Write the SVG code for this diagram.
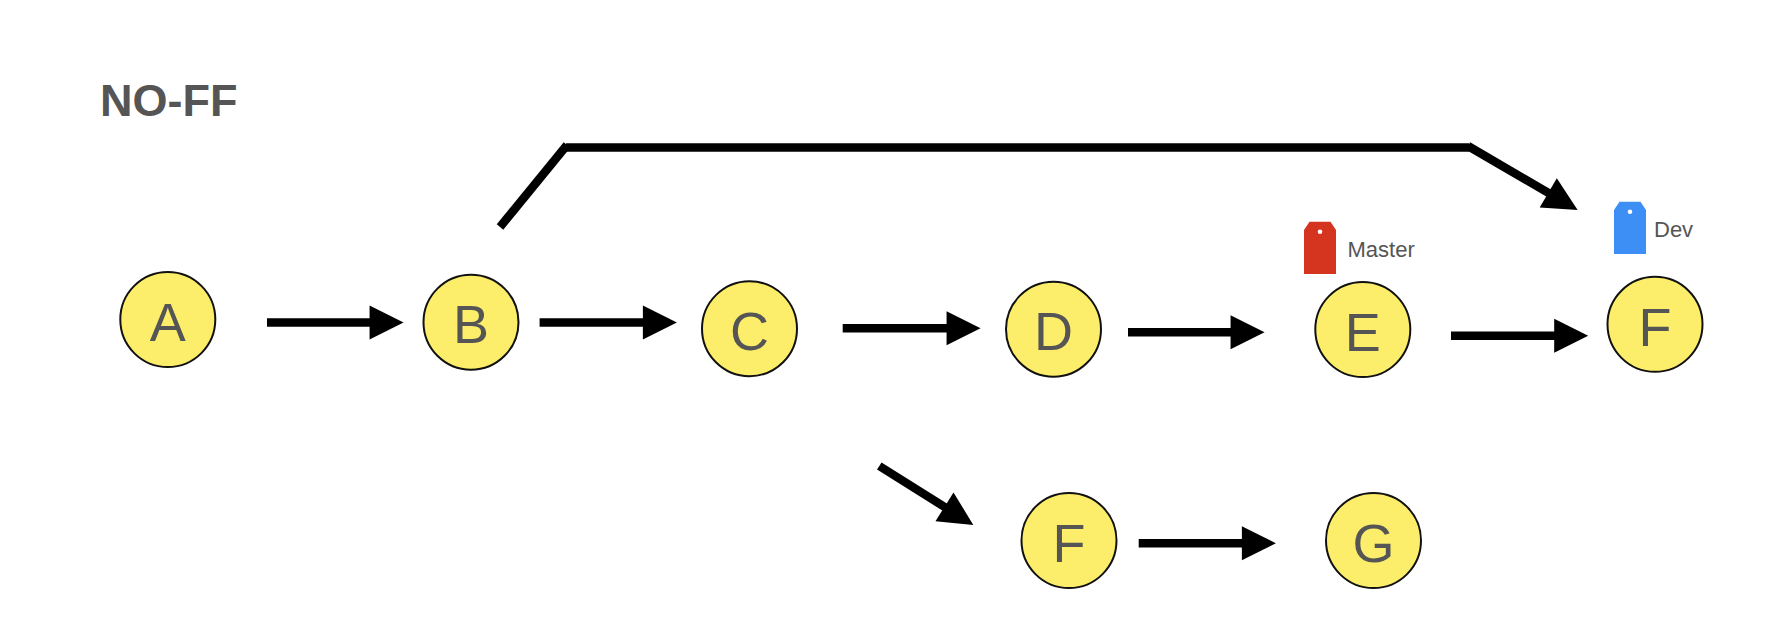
<svg xmlns="http://www.w3.org/2000/svg" width="1786" height="642" viewBox="0 0 1786 642">
<style>
.node circle{fill:#FCEE6A;stroke:#111;stroke-width:2}
.node text{font-family:"Liberation Sans",Arial,sans-serif;font-size:54px;fill:#555;text-anchor:middle}
.edge{stroke:#000;stroke-width:8.5;fill:none}
.lbl{font-family:"Liberation Sans",Arial,sans-serif;font-size:22px;fill:#555}
.title{font-family:"Liberation Sans",Arial,sans-serif;font-size:45px;font-weight:bold;fill:#555}
</style>
<defs>
<marker id="ah" markerUnits="userSpaceOnUse" markerWidth="34" markerHeight="34" viewBox="0 0 32 32" refX="2" refY="16" orient="auto" overflow="visible">
<path d="M0,0 L32,16 L0,32 Z" fill="#000"/>
</marker>
</defs>
<rect width="1786" height="642" fill="#fff"/>
<text class="title" x="100" y="115.5">NO-FF</text>
<g id="connectors">
<line class="edge" x1="267" y1="322.5" x2="371.7" y2="322.5" marker-end="url(#ah)"/>
<line class="edge" x1="539.6" y1="322.5" x2="645" y2="322.5" marker-end="url(#ah)"/>
<line class="edge" x1="842.7" y1="328.3" x2="948.7" y2="328.3" marker-end="url(#ah)"/>
<line class="edge" x1="1128" y1="332.3" x2="1232.7" y2="332.3" marker-end="url(#ah)"/>
<line class="edge" x1="1451" y1="335.7" x2="1556.3" y2="335.7" marker-end="url(#ah)"/>
<line class="edge" x1="1138.7" y1="543.3" x2="1244" y2="543.3" marker-end="url(#ah)"/>
<line class="edge" x1="879.3" y1="466" x2="946.3" y2="508" marker-end="url(#ah)"/>
<line class="edge" x1="500" y1="227" x2="567" y2="145"/>
<line class="edge" x1="566" y1="147.5" x2="1469" y2="147.5"/>
<line class="edge" x1="1468" y1="146" x2="1550.1" y2="193.9" marker-end="url(#ah)"/>
</g>
<g id="node-A" class="node"><circle cx="167.8" cy="319.5" r="47.5"/><text x="167.8" y="340.7">A</text></g>
<g id="node-B" class="node"><circle cx="471" cy="322.2" r="47.5"/><text x="471" y="343.4">B</text></g>
<g id="node-C" class="node"><circle cx="749.5" cy="328.7" r="47.5"/><text x="749.5" y="349.9">C</text></g>
<g id="node-D" class="node"><circle cx="1053.5" cy="329.2" r="47.5"/><text x="1053.5" y="350.4">D</text></g>
<g id="node-E" class="node"><circle cx="1362.8" cy="329.5" r="47.5"/><text x="1362.8" y="350.7">E</text></g>
<g id="node-F" class="node"><circle cx="1655" cy="324.3" r="47.5"/><text x="1655" y="345.5">F</text></g>
<g id="node-F2" class="node"><circle cx="1069" cy="540.5" r="47.5"/><text x="1069" y="561.7">F</text></g>
<g id="node-G" class="node"><circle cx="1373.5" cy="540.5" r="47.5"/><text x="1373.5" y="561.7">G</text></g>
<g id="tag-master">
<path d="M1309.5,221.7 L1330.5,221.7 L1336,230 L1336,274 L1304,274 L1304,230 Z" fill="#D5341F"/>
<circle cx="1320" cy="231.7" r="2.3" fill="#fff"/>
<text class="lbl" x="1347.5" y="257.3">Master</text>
</g>
<g id="tag-dev">
<path d="M1619.5,201.7 L1640.5,201.7 L1646,210 L1646,254 L1614,254 L1614,210 Z" fill="#3D8EF5"/>
<circle cx="1630" cy="211.7" r="2.3" fill="#fff"/>
<text class="lbl" x="1654" y="236.7">Dev</text>
</g>
</svg>
